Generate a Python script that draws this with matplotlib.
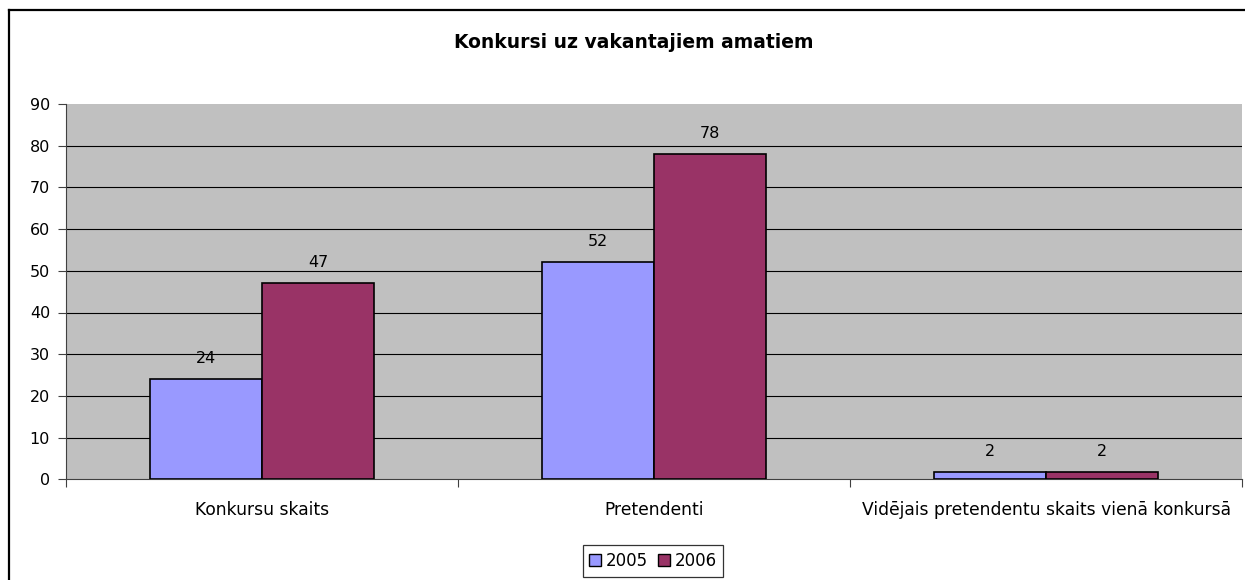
import matplotlib
matplotlib.use("Agg")
import matplotlib.pyplot as plt
from matplotlib.patches import Patch
from matplotlib.lines import Line2D
import numpy as np

plt.rcParams['font.family'] = ['DejaVu Sans']

title = "Konkursi uz vakantajiem amatiem"
categories = ["Konkursu skaits", "Pretendenti", "Vidējais pretendentu skaits vienā konkursā"]
series_names = ["2005", "2006"]
values_2005 = [24, 52, 1.75]
values_2006 = [47, 78, 1.75]
colors = ["#9999FF", "#993366"]
yticks = [0, 10, 20, 30, 40, 50, 60, 70, 80, 90]

FS = 11.5
W, H = 1245, 580
fig = plt.figure(figsize=(W / 100, H / 100), dpi=100)
ax = fig.add_axes([66 / W, (H - 479.3) / H, (1242 - 66) / W, (479.3 - 104) / H])
ax.set_facecolor("#C0C0C0")

x = np.arange(len(categories))
bw = 1 / 3.5
for i, (vals, col, name) in enumerate(zip([values_2005, values_2006], colors, series_names)):
    pos = x + (i - 0.5) * bw
    bars = ax.bar(pos, vals, width=bw, color=col, edgecolor="black", linewidth=1.2, zorder=3)
    for b, v in zip(bars, vals):
        ax.annotate(f"{v:.0f}", (b.get_x() + b.get_width() / 2, b.get_height()),
                    xytext=(0, 21), textcoords="offset pixels", ha="center", va="center",
                    fontsize=FS, color="black")

for t in yticks[1:-1]:
    ax.axhline(t, color="black", linewidth=0.8, zorder=1)

ax.set_xlim(-0.5, len(categories) - 0.5)
ax.set_ylim(0, 90)
ax.set_yticks(yticks)
ax.set_yticklabels([str(t) for t in yticks])
ax.tick_params(axis="y", length=6, width=0.8, pad=5.5, labelsize=FS, color="#404040")

ax.set_xticks(np.arange(len(categories) + 1) - 0.5)
ax.set_xticklabels([])
ax.tick_params(axis="x", which="major", length=6, width=0.8, color="#404040")
ax.set_xticks(x, minor=True)
ax.set_xticklabels(categories, minor=True)
ax.tick_params(axis="x", which="minor", length=0, pad=15.5, labelsize=12.3)

for s in ["top", "right"]:
    ax.spines[s].set_visible(False)
for s in ["left", "bottom"]:
    ax.spines[s].set_color("#404040")
    ax.spines[s].set_linewidth(0.8)

fig.text(634 / W, (H - 42) / H, title, ha="center", va="center", fontsize=13.5, fontweight="bold")

handles = [Patch(facecolor=c, edgecolor="black", linewidth=1.0) for c in colors]
leg = fig.legend(handles, series_names, loc="center", bbox_to_anchor=(653 / W, (H - 561) / H),
                 ncol=2, frameon=True, fancybox=False, fontsize=12, handlelength=0.7,
                 handleheight=0.7, handletextpad=0.3, columnspacing=0.6, borderpad=0.4,
                 edgecolor="black")
leg.get_frame().set_linewidth(0.9)

# outer chart border
fig.add_artist(Line2D([9 / W, 9 / W], [0, (H - 9.5) / H], transform=fig.transFigure,
                      color="black", linewidth=1.6))
fig.add_artist(Line2D([9 / W, 1], [(H - 9.5) / H, (H - 9.5) / H], transform=fig.transFigure,
                      color="black", linewidth=1.6))

fig.savefig("out.png", dpi=100, facecolor="white")
